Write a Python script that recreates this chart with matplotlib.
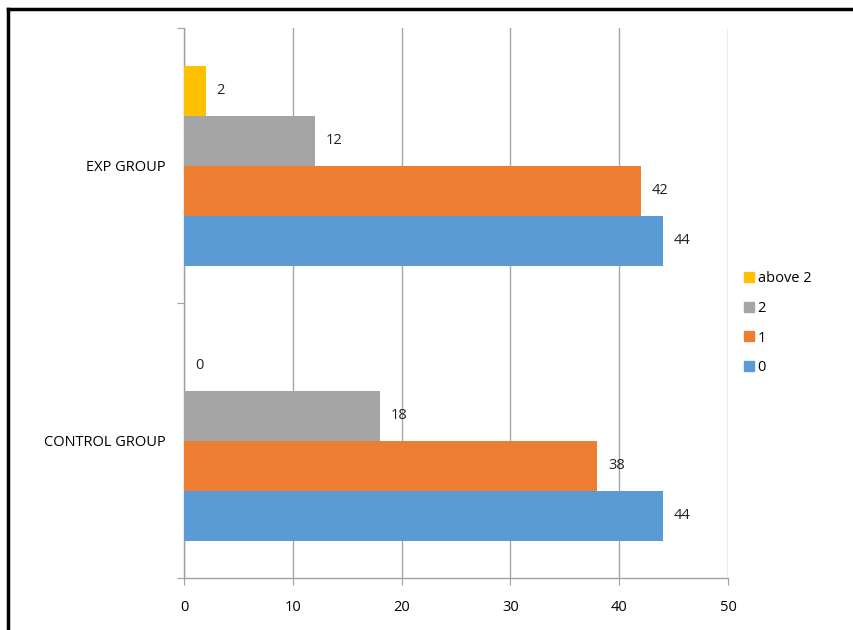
import numpy as np
import matplotlib.pyplot as plt
from matplotlib.lines import Line2D

groups = ["CONTROL GROUP", "EXP GROUP"]
series = ["0", "1", "2", "above 2"]
values = {
    "0": [44, 44],
    "1": [38, 42],
    "2": [18, 12],
    "above 2": [0, 2],
}
colors = ["#5B9BD5", "#ED7D31", "#A5A5A5", "#FFC000"]

plt.rcParams['font.family'] = ['Open Sans', 'DejaVu Sans']

fig = plt.figure(figsize=(8.54, 6.3), dpi=100)
ax = fig.add_axes([0.2155, 0.0825, 0.637, 0.873])

index = np.arange(len(groups))
h = 0.1818
for i, s in enumerate(series):
    off = (i - 1.5) * h
    b = ax.barh(index + off, values[s], h, color=colors[i], label=s, zorder=3)
    for rect, v in zip(b, values[s]):
        ax.text(rect.get_width() + 1, rect.get_y() + h / 2, '%d' % v,
                ha='left', va='center', fontsize=10.5, color='#222222')

ax.set_xlim(0, 50)
ax.set_ylim(-0.5, 1.5)
ax.set_xticks(np.arange(0, 51, 10))
ax.set_yticks([-0.5, 0.5, 1.5], minor=False)
ax.set_yticklabels([])
ax.set_yticks(index, minor=True)
ax.set_yticklabels(groups, minor=True)
ax.tick_params(axis='y', which='minor', length=0, pad=13, labelsize=10.5)
ax.tick_params(axis='y', which='major', length=5, color='#A0A0A0')
ax.tick_params(axis='x', length=5, color='#A0A0A0', pad=11, labelsize=10.5)
ax.grid(axis='x', color='#A6A6A6', linewidth=1, zorder=0)
for sp in ['top', 'right']:
    ax.spines[sp].set_visible(False)
for sp in ['left', 'bottom']:
    ax.spines[sp].set_color('#A0A0A0')
    ax.spines[sp].set_linewidth(1)

handles = [Line2D([], [], marker='s', linestyle='', markersize=7,
                  markerfacecolor=colors[i], markeredgecolor=colors[i])
           for i in range(len(series))][::-1]
fig.legend(handles, series[::-1], loc='upper left', bbox_to_anchor=(0.853, 0.59),
           frameon=False, fontsize=10.5, handletextpad=0.1, labelspacing=1.0,
           handlelength=1.0)

# frame lines (top and left only)
fig.add_artist(Line2D([0.0095, 1.0], [0.985, 0.985], color='black', linewidth=2.5,
                      transform=fig.transFigure))
fig.add_artist(Line2D([0.0095, 0.0095], [0.0, 0.985], color='black', linewidth=2.5,
                      transform=fig.transFigure))

fig.savefig('out.png', dpi=100)
